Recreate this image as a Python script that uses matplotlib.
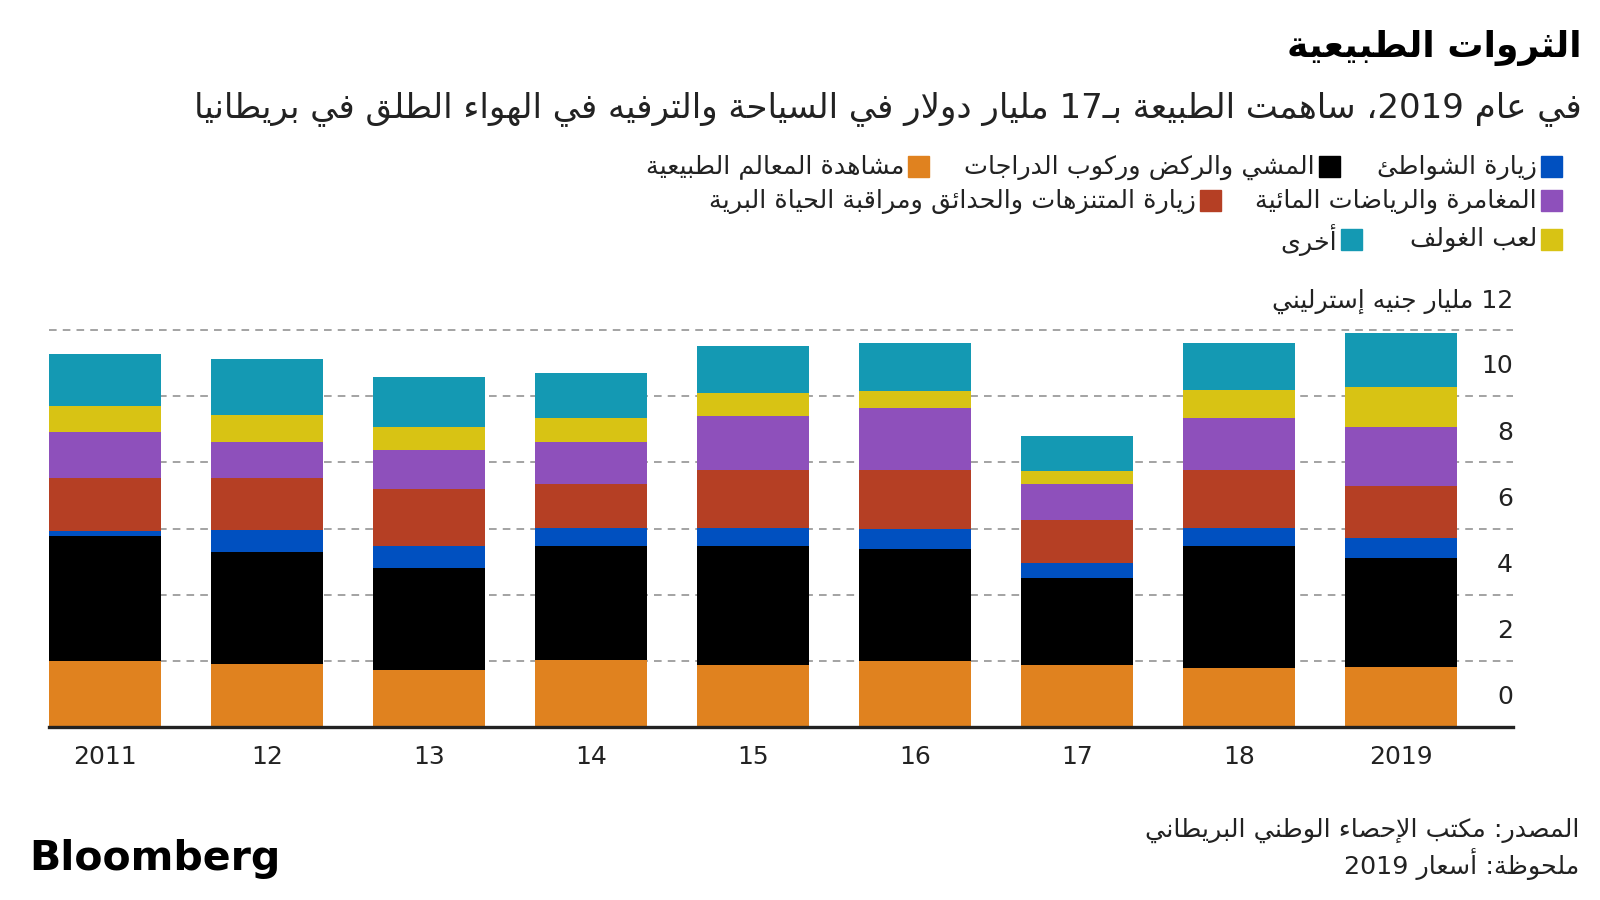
import re
import matplotlib
matplotlib.use("Agg")
import matplotlib.pyplot as plt
from matplotlib.patches import Rectangle
import matplotlib.transforms as mtransforms

plt.rcParams["font.family"] = ["DejaVu Sans"]

# --- data (billion GBP) ---
years = ["2011", "12", "13", "14", "15", "16", "17", "18", "2019"]
nature_watching = [1.99, 1.90, 1.71, 2.04, 1.86, 2.01, 1.87, 1.77, 1.81]
walking_cycling = [3.78, 3.40, 3.11, 3.43, 3.62, 3.37, 2.62, 3.71, 3.29]
beaches = [0.14, 0.66, 0.66, 0.54, 0.54, 0.61, 0.48, 0.54, 0.61]
parks_wildlife = [1.63, 1.57, 1.70, 1.32, 1.75, 1.77, 1.29, 1.75, 1.56]
adventure_water = [1.38, 1.08, 1.20, 1.29, 1.64, 1.88, 1.07, 1.56, 1.81]
golf = [0.79, 0.83, 0.70, 0.73, 0.68, 0.53, 0.42, 0.85, 1.21]
other = [1.55, 1.69, 1.49, 1.34, 1.44, 1.44, 1.04, 1.44, 1.61]

series = [nature_watching, walking_cycling, beaches, parks_wildlife,
          adventure_water, golf, other]
colors = ["#E0821F", "#000000", "#0050C0", "#B53F24",
          "#8E50BB", "#D8C314", "#1499B3"]
labels = ["مشاهدة المعالم الطبيعية", "المشي والركض وركوب الدراجات",
          "زيارة الشواطئ", "زيارة المتنزهات والحدائق ومراقبة الحياة البرية",
          "المغامرة والرياضات المائية", "لعب الغولف", "أخرى"]
y_ticks = [0, 2, 4, 6, 8, 10]

# --- minimal arabic shaping (presentation forms) + rtl ordering ---
FORMS = {'ء': (0xFE80, 1), 'آ': (0xFE81, 2), 'أ': (0xFE83, 2), 'ؤ': (0xFE85, 2),
         'إ': (0xFE87, 2), 'ئ': (0xFE89, 4), 'ا': (0xFE8D, 2), 'ب': (0xFE8F, 4),
         'ة': (0xFE93, 2), 'ت': (0xFE95, 4), 'ث': (0xFE99, 4), 'ج': (0xFE9D, 4),
         'ح': (0xFEA1, 4), 'خ': (0xFEA5, 4), 'د': (0xFEA9, 2), 'ذ': (0xFEAB, 2),
         'ر': (0xFEAD, 2), 'ز': (0xFEAF, 2), 'س': (0xFEB1, 4), 'ش': (0xFEB5, 4),
         'ص': (0xFEB9, 4), 'ض': (0xFEBD, 4), 'ط': (0xFEC1, 4), 'ظ': (0xFEC5, 4),
         'ع': (0xFEC9, 4), 'غ': (0xFECD, 4), 'ف': (0xFED1, 4), 'ق': (0xFED5, 4),
         'ك': (0xFED9, 4), 'ل': (0xFEDD, 4), 'م': (0xFEE1, 4), 'ن': (0xFEE5, 4),
         'ه': (0xFEE9, 4), 'و': (0xFEED, 2), 'ى': (0xFEEF, 2), 'ي': (0xFEF1, 4)}
LAMALEF = {'آ': 0xFEF5, 'أ': 0xFEF7, 'إ': 0xFEF9, 'ا': 0xFEFB}
TATWEEL = '\u0640'


def dual(c):
    return c == TATWEEL or (c in FORMS and FORMS[c][1] == 4)


def joins(c):
    return c == TATWEEL or (c in FORMS and FORMS[c][1] > 1)


def shape(s):
    out = []
    i = 0
    n = len(s)
    while i < n:
        c = s[i]
        prev = s[i - 1] if i > 0 else ''
        link_prev = joins(c) and dual(prev)
        if c == 'ل' and i + 1 < n and s[i + 1] in LAMALEF:
            out.append(chr(LAMALEF[s[i + 1]] + (1 if link_prev else 0)))
            i += 2
            continue
        if c not in FORMS:
            out.append(c)
            i += 1
            continue
        base, k = FORMS[c]
        nxt = s[i + 1] if i + 1 < n else ''
        link_next = k == 4 and joins(nxt)
        if link_prev and link_next:
            out.append(chr(base + 3))
        elif link_prev:
            out.append(chr(base + 1))
        elif link_next:
            out.append(chr(base + 2))
        else:
            out.append(chr(base))
        i += 1
    return ''.join(out)


def ar(s):
    s = shape(s)
    parts = re.findall(r'[0-9]+|[^0-9]+', s)
    return ''.join(p if p[0].isdigit() else p[::-1] for p in reversed(parts))


# --- figure ---
W, H = 1600, 900
fig = plt.figure(figsize=(16, 9), dpi=100)
ax = fig.add_axes([49 / W, 1 - 727 / H, (1513 - 49) / W, (727 - 330) / H])

x = list(range(len(years)))
bottom = [0.0] * len(years)
for vals, col in zip(series, colors):
    ax.bar(x, vals, width=0.69, bottom=bottom, color=col, zorder=3, linewidth=0)
    bottom = [b + v for b, v in zip(bottom, vals)]

ax.set_xlim(-0.345, 8.69)
ax.set_ylim(0, 12)
for v in [2, 4, 6, 8, 10, 12]:
    ax.axhline(v, color="#8a8a8a", lw=1.1, dashes=(5, 4), zorder=1, clip_on=False)
ax.axhline(0, color="#222222", lw=2.4, zorder=4, clip_on=False)

for s in ax.spines.values():
    s.set_visible(False)
ax.set_xticks([])
ax.set_yticks([])

trans = mtransforms.blended_transform_factory(ax.transAxes, ax.transData)
for v in y_ticks:
    ax.text(1.0, v + 0.9, str(v), transform=trans, ha="right", va="center",
            fontsize=18, color="#222222")
ax.text(1.0, 12.85, ar("12 مليار جنيه إسترليني"), transform=trans,
        ha="right", va="center", fontsize=18, color="#222222")

for xi, yl in zip(x, years):
    ax.text(xi, -0.9, yl, ha="center", va="center", fontsize=18, color="#222222")

# --- titles ---
fig.text(1582 / W, 1 - 48 / H, ar("الثروات الطبيعية"), ha="right", va="center",
         fontsize=26, fontweight="bold", color="#000000")
fig.text(1582 / W, 1 - 109 / H,
         ar("في عام 2019، ساهمت الطبيعة بـ17 مليار دولار في السياحة والترفيه في الهواء الطلق في بريطانيا"),
         ha="right", va="center", fontsize=24.5, color="#222222")

# --- legend drawn by hand ---
legend_items = [
    (1541, 166, 2), (1319, 166, 1), (908, 166, 0),
    (1541, 200, 4), (1200, 200, 3),
    (1541, 239, 5), (1341, 239, 6),
]
sq = 21
for lx, ly, idx in legend_items:
    fig.patches.append(Rectangle((lx / W, 1 - (ly + sq / 2) / H), sq / W, sq / H,
                                 transform=fig.transFigure, color=colors[idx]))
    fig.text((lx - 4) / W, 1 - (ly + 1) / H, ar(labels[idx]), ha="right", va="center",
             fontsize=18.3, color="#222222")

# --- footer ---
fig.text(1579 / W, 1 - 830 / H, ar("المصدر: مكتب الإحصاء الوطني البريطاني"),
         ha="right", va="center", fontsize=18.3, color="#222222")
fig.text(1579 / W, 1 - 864 / H, ar("ملحوظة: أسعار 2019"),
         ha="right", va="center", fontsize=18.3, color="#222222")
fig.text(29 / W, 1 - 859 / H, "Bloomberg", ha="left", va="center",
         fontsize=29.5, fontweight="bold", color="#000000")

fig.savefig("out.png", dpi=100, facecolor="white")
